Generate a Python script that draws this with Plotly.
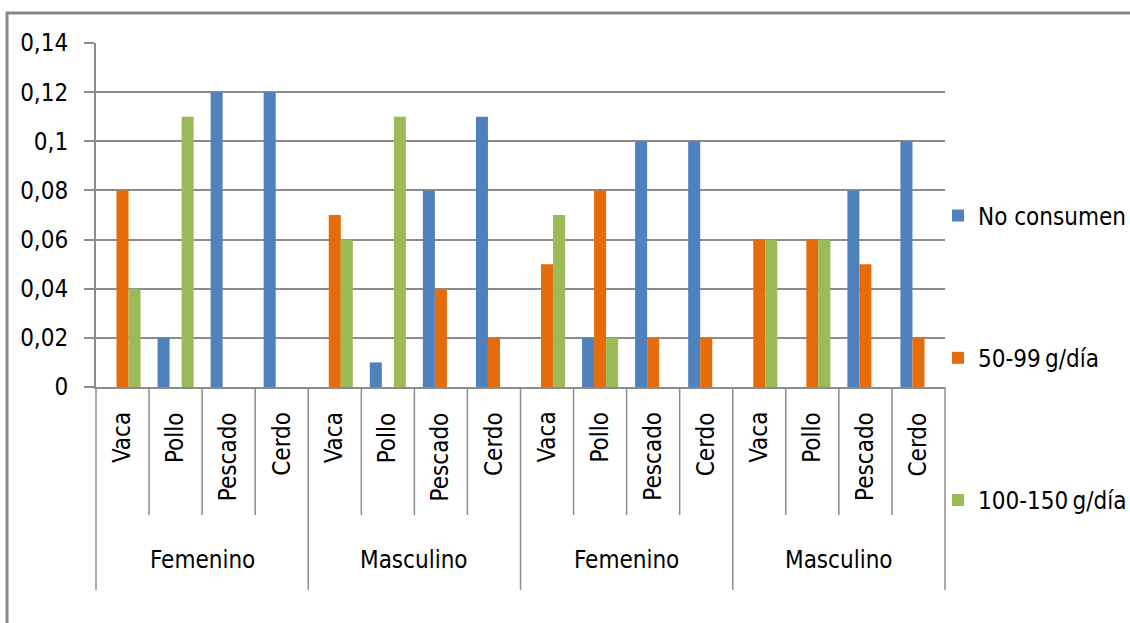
import plotly.graph_objects as go

# ---- data ----
groups = ["Femenino", "Masculino", "Femenino", "Masculino"]
meats = ["Vaca", "Pollo", "Pescado", "Cerdo"]
series_names = ["No consumen", "50-99\u2009g/día", "100-150\u2009g/día"]
no_consumen = [0, 0.02, 0.12, 0.12, 0, 0.01, 0.08, 0.11, 0, 0.02, 0.10, 0.10, 0, 0, 0.08, 0.10]
g50_99 = [0.08, 0, 0, 0, 0.07, 0, 0.04, 0.02, 0.05, 0.08, 0.02, 0.02, 0.06, 0.06, 0.05, 0.02]
g100_150 = [0.04, 0.11, 0, 0, 0.06, 0.11, 0, 0, 0.07, 0.02, 0, 0, 0.06, 0.06, 0, 0]
y_tick_vals = [0, 0.02, 0.04, 0.06, 0.08, 0.10, 0.12, 0.14]
y_tick_text = ["0", "0,02", "0,04", "0,06", "0,08", "0,1", "0,12", "0,14"]

colors = ["#4F81BD", "#E46C0A", "#9BBB59"]
FONT = "DejaVu Sans Condensed"
FS = 24
GRAY = "#8c8c8c"

W, H = 1130, 623
L, R, T, B = 96, 945, 43, 387  # plot area in pixels
n_cat = len(groups) * len(meats)
x_idx = list(range(n_cat))


def py(p):  # pixel y -> paper y
    return (B - p) / (B - T)


def px(p):  # pixel x -> paper x
    return (p - L) / (R - L)


fig = go.Figure()
for name, vals, col in zip(series_names, [no_consumen, g50_99, g100_150], colors):
    fig.add_trace(go.Bar(x=x_idx, y=vals, name=name, marker=dict(color=col, line=dict(width=0)),
                         legendgroup=name))

shapes = []
# category separators
for i in range(n_cat + 1):
    major = (i % len(meats) == 0)
    shapes.append(dict(type="line", xref="paper", yref="paper",
                       x0=i / n_cat, x1=i / n_cat, y0=0, y1=py(590 if major else 515),
                       line=dict(color=GRAY, width=1.5)))
# outer frame
shapes.append(dict(type="rect", xref="paper", yref="paper",
                   x0=px(7), x1=px(1145), y0=py(13), y1=py(650),
                   line=dict(color="#878787", width=3), fillcolor="rgba(0,0,0,0)", layer="below"))

annotations = []
for gi, g in enumerate(groups):
    for mi, m in enumerate(meats):
        xi = gi * len(meats) + mi
        annotations.append(dict(x=xi, xref="x", y=py(410), yref="paper", text=m,
                                textangle=-90, showarrow=False, xanchor="center", yanchor="top",
                                font=dict(family=FONT, size=FS, color="black")))
    annotations.append(dict(x=gi * len(meats) + (len(meats) - 1) / 2, xref="x", y=py(560), yref="paper",
                            text=g, showarrow=False, xanchor="center", yanchor="middle",
                            font=dict(family=FONT, size=FS, color="black")))

fig.update_layout(
    width=W, height=H,
    margin=dict(l=L, r=W - R, t=T, b=H - B, pad=0, autoexpand=False),
    paper_bgcolor="white", plot_bgcolor="white",
    barmode="group", bargap=0.32, bargroupgap=0,
    font=dict(family=FONT, size=FS, color="black"),
    xaxis=dict(range=[-0.5, n_cat - 0.5], showgrid=False, showticklabels=False, ticks="",
               showline=True, linecolor=GRAY, linewidth=2, zeroline=False, fixedrange=True),
    yaxis=dict(range=[0, 0.14], tickvals=y_tick_vals, ticktext=y_tick_text,
               showgrid=True, gridcolor=GRAY, gridwidth=1.5,
               showline=True, linecolor=GRAY, linewidth=2, zeroline=False,
               ticks="outside", ticklen=10, tickcolor=GRAY, tickwidth=1.5,
               ticklabelstandoff=11, tickfont=dict(family=FONT, size=FS, color="black")),
    legend=dict(x=px(938), xanchor="left", y=py(358), yanchor="middle",
                tracegroupgap=108, itemwidth=30, bgcolor="rgba(0,0,0,0)",
                font=dict(family=FONT, size=FS, color="black")),
    shapes=shapes, annotations=annotations,
    showlegend=True,
)

fig.write_html("out.html")
